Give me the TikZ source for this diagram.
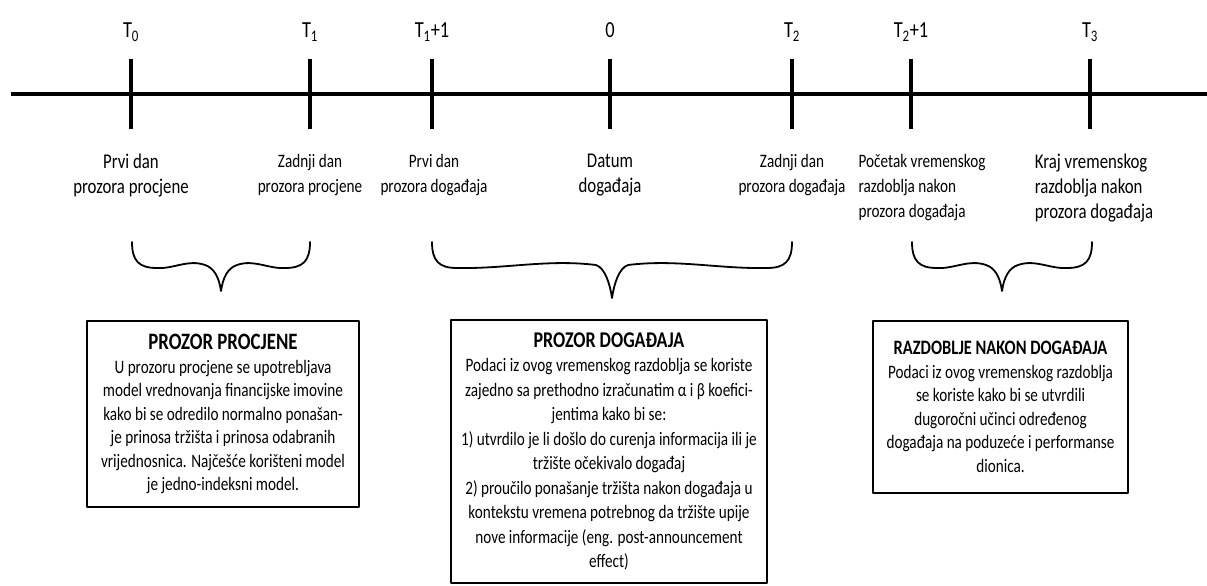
\documentclass[tikz,border=0pt]{standalone}
\usepackage{fontspec}
\setmainfont{Carlito}[FakeStretch=0.8]
\usetikzlibrary{positioning}

\tikzset{
  timetick/.style={line width=3.5pt, line cap=butt},
  tlabel/.style={anchor=base, inner sep=0pt, font=\fontsize{23}{24}\selectfont},
  daylabel/.style={inner sep=0pt, align=center, font=\fontsize{19}{25}\selectfont},
  daylabelbig/.style={daylabel, font=\fontsize{21}{25}\selectfont},
  curly/.style={line width=1.8pt},
  infobox/.style={draw, line width=1.8pt, align=center, inner sep=0pt, font=\fontsize{19}{23.5}\selectfont},
}

\begin{document}
\begin{tikzpicture}[x=1pt, y=-1pt, line join=round, line cap=round]
\useasboundingbox (0,0) rectangle (1207,586);

% time axis
\coordinate (axisstart) at (11,94);
\coordinate (axisend) at (1207,94);
\draw[line width=4.5pt, line cap=butt] (axisstart) -- (axisend);
\foreach \x/\n/\t in {131/t0/T\textsubscript{0}, 310/t1/T\textsubscript{1}, 432/t1p/T\textsubscript{1}+1,
                      610/tz/0, 792/t2/T\textsubscript{2}, 911/t2p/T\textsubscript{2}+1, 1090/t3/T\textsubscript{3}}{
  \coordinate (\n) at (\x,94);
  \draw[timetick] (\x,59) -- (\x,129);
  \node[tlabel] (\n-lbl) at (\x,38) {\t};
}

% day labels
\node[daylabelbig, below=60pt of t0] (t0-day) {Prvi dan\\prozora procjene};
\node[daylabel, below=60pt of t1] (t1-day) {Zadnji dan\\prozora procjene};
\node[daylabel, below=60pt of t1p, xshift=2pt] (t1p-day) {Prvi dan\\prozora događaja};
\node[daylabelbig, below=60pt of tz] (tz-day) {Datum\\događaja};
\node[daylabel, below=60pt of t2] (t2-day) {Zadnji dan\\prozora događaja};
\node[daylabel, align=left, below=60pt of t2p, xshift=11pt] (t2p-day) {Početak vremenskog\\razdoblja nakon\\prozora događaja};
\node[daylabelbig, align=left, below=60pt of t3, xshift=4pt] (t3-day) {Kraj vremenskog\\razdoblja nakon\\prozora događaja};

% braces
\foreach \xl/\xr/\yt in {132/310/291, 432/792/298, 912/1092/291}{
  \pgfmathsetmacro\xm{(\xl+\xr)/2}
  \pgfmathsetmacro\wa{\xl+25+0.35*(\xm-\xl-41)}
  \pgfmathsetmacro\wb{\xl+25+0.65*(\xm-\xl-41)}
  \pgfmathsetmacro\wc{\xr-25-0.35*(\xr-\xm-41)}
  \pgfmathsetmacro\wd{\xr-25-0.65*(\xr-\xm-41)}
  \draw[curly] (\xl,242) .. controls (\xl,261) and ({\xl+7},268) .. ({\xl+25},268)
    .. controls (\wa,269) and (\wb,259) .. ({\xm-16},265)
    .. controls ({\xm-7},268) and ({\xm-2},{\yt-14}) .. (\xm,\yt)
    .. controls ({\xm+2},{\yt-14}) and ({\xm+7},268) .. ({\xm+16},265)
    .. controls (\wd,259) and (\wc,269) .. ({\xr-25},268)
    .. controls ({\xr-7},268) and (\xr,261) .. (\xr,242);
}

% boxes
\node[infobox, minimum width=272pt, minimum height=186pt] (procjena) at (223,414)
  {{\fontsize{23.5}{24}\selectfont\bfseries PROZOR PROCJENE}\\
   U prozoru procjene se upotrebljava\\
   model vrednovanja financijske imovine\\
   kako bi se odredilo normalno ponašan-\\
   je prinosa tržišta i prinosa odabranih\\
   vrijednosnica. Najčešće korišteni model\\
   je jedno-indeksni model.};
\node[infobox, font=\fontsize{19}{24.5}\selectfont, minimum width=316pt, minimum height=263pt] (dogadjaj) at (609,451.5)
  {{\fontsize{22.5}{24}\selectfont\bfseries PROZOR DOGAĐAJA}\\
   Podaci iz ovog vremenskog razdoblja se koriste\\
   zajedno sa prethodno izračunatim α i β koefici-\\
   jentima kako bi se:\\
   1) utvrdilo je li došlo do curenja informacija ili je\\
   tržište očekivalo događaj\\
   2) proučilo ponašanje tržišta nakon događaja u\\
   kontekstu vremena potrebnog da tržište upije\\
   nove informacije (eng. post-announcement\\
   effect)};
\node[infobox, minimum width=255pt, minimum height=172pt] (nakon) at (1000.5,407)
  {{\fontsize{20.5}{24}\selectfont\bfseries RAZDOBLJE NAKON DOGAĐAJA}\\
   Podaci iz ovog vremenskog razdoblja\\
   se koriste kako bi se utvrdili\\
   dugoročni učinci određenog\\
   događaja na poduzeće i performanse\\
   dionica.};
\end{tikzpicture}
\end{document}
